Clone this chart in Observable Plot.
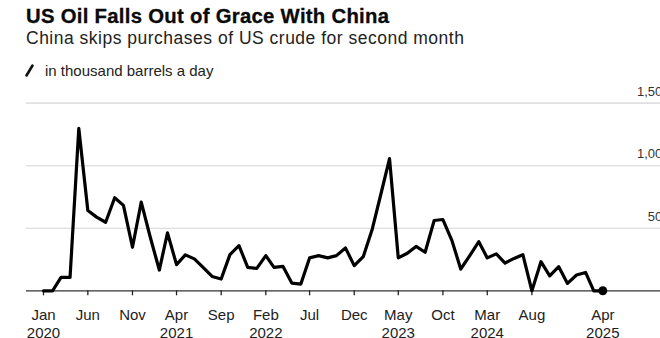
<!DOCTYPE html>
<html><head><meta charset="utf-8">
<script src="https://cdn.jsdelivr.net/npm/d3@7"></script>
<script src="https://cdn.jsdelivr.net/npm/@observablehq/plot@0.6"></script>
<style>
html,body{margin:0;padding:0;background:#fff;overflow:hidden;width:660px;height:338px}
#wrap{position:relative;width:660px;height:338px;overflow:hidden;font-family:"Liberation Sans",Arial,sans-serif}
.t{position:absolute;left:26px;white-space:nowrap;line-height:1}
#title{top:6px;font-size:20.3px;font-weight:bold;color:#0a0a0a;letter-spacing:0.3px;-webkit-text-stroke:0.3px #0a0a0a}
#sub{top:29.5px;font-size:17.5px;color:#222;letter-spacing:0.5px}
#leg{top:63.3px;left:45px;font-size:15px;color:#222}
#slash{position:absolute;left:0;top:0}
#chart{position:absolute;left:0;top:85px}
#chart svg{max-width:none!important}
</style></head>
<body>
<div id="wrap">
  <div class="t" id="title">US Oil Falls Out of Grace With China</div>
  <div class="t" id="sub">China skips purchases of US crude for second month</div>
  <svg id="slash" width="60" height="85"><line x1="26.5" y1="75.5" x2="32.5" y2="65.5" stroke="#111" stroke-width="2.6" stroke-linecap="round"/></svg>
  <div class="t" id="leg">in thousand barrels a day</div>
  <div id="chart"></div>
</div>
<script>
// Monthly China imports of US crude, thousand barrels a day, Jan 2020 – Apr 2025
const startYear = 2020;
const values = [
  0, 0, 107, 107, 1298, 642, 589, 548, 744, 683, 348, 709,      // 2020
  428, 166, 463, 209, 287, 255, 187, 115, 94, 289, 361, 187,    // 2021
  179, 281, 187, 195, 62, 54, 263, 281, 263, 281, 343, 201,     // 2022
  273, 495, 760, 1057, 263, 300, 355, 308, 562, 570, 401, 174,  // 2023
  281, 393, 263, 295, 222, 259, 289, 0, 233, 120, 193, 59,      // 2024
  126, 147, 0, 0                                                // 2025
];
const tickMonths = ["2020-01","2020-06","2020-11","2021-04","2021-09","2022-02","2022-07","2022-12","2023-05","2023-10","2024-03","2024-08"];
const tickLabels = ["Jan\n2020","Jun","Nov","Apr\n2021","Sep","Feb\n2022","Jul","Dec","May\n2023","Oct","Mar\n2024","Aug"];
const endMonth = "2025-04";
const endLabel = "Apr\n2025";
const yTicks = [500, 1000, 1500];

const parse = s => { const [y, m] = s.split("-").map(Number); return new Date(Date.UTC(y, m - 1, 1)); };
const data = values.map((v, i) => ({date: new Date(Date.UTC(startYear, i, 1)), value: v}));
const tickDates = tickMonths.map(parse);
const labelMap = new Map(tickDates.map((d, i) => [+d, tickLabels[i]]));
const endDate = parse(endMonth);
const last = data[data.length - 1];

const chart = Plot.plot({
  width: 672,
  height: 253,
  marginLeft: 26, marginRight: 0, marginTop: 17.7, marginBottom: 47.7,
  style: {fontFamily: "'Liberation Sans', Arial, sans-serif", background: "transparent", maxWidth: "none", overflow: "visible"},
  x: {type: "utc", domain: [data[0].date, endDate], range: [43, 602.3], axis: null},
  y: {domain: [0, 1500], axis: null},
  marks: [
    Plot.ruleY(yTicks, {stroke: "#d4d4d4", strokeWidth: 1.2}),
    Plot.text(yTicks, {y: d => d, text: d => d3.format(",")(d), frameAnchor: "right", textAnchor: "end", lineAnchor: "bottom", dx: -3, dy: -7.7, fontSize: 13, fill: "#333"}),
    Plot.ruleY([0], {stroke: "#333", strokeWidth: 1.3}),
    Plot.axisX(tickDates, {anchor: "bottom", tickSize: 5, tickPadding: 10.7, tickFormat: d => labelMap.get(+d), fontSize: 15, lineHeight: 1.22, color: "#222", strokeWidth: 1.3}),
    Plot.axisX([endDate], {anchor: "bottom", tickSize: 0, tickPadding: 15.7, tickFormat: () => endLabel, fontSize: 15, lineHeight: 1.22, color: "#222"}),
    Plot.lineY(data, {x: "date", y: "value", stroke: "#000", strokeWidth: 3.2}),
    Plot.dot([last], {x: "date", y: "value", r: 4.5, fill: "#000"})
  ]
});
document.getElementById("chart").appendChild(chart);
</script>
</body></html>
